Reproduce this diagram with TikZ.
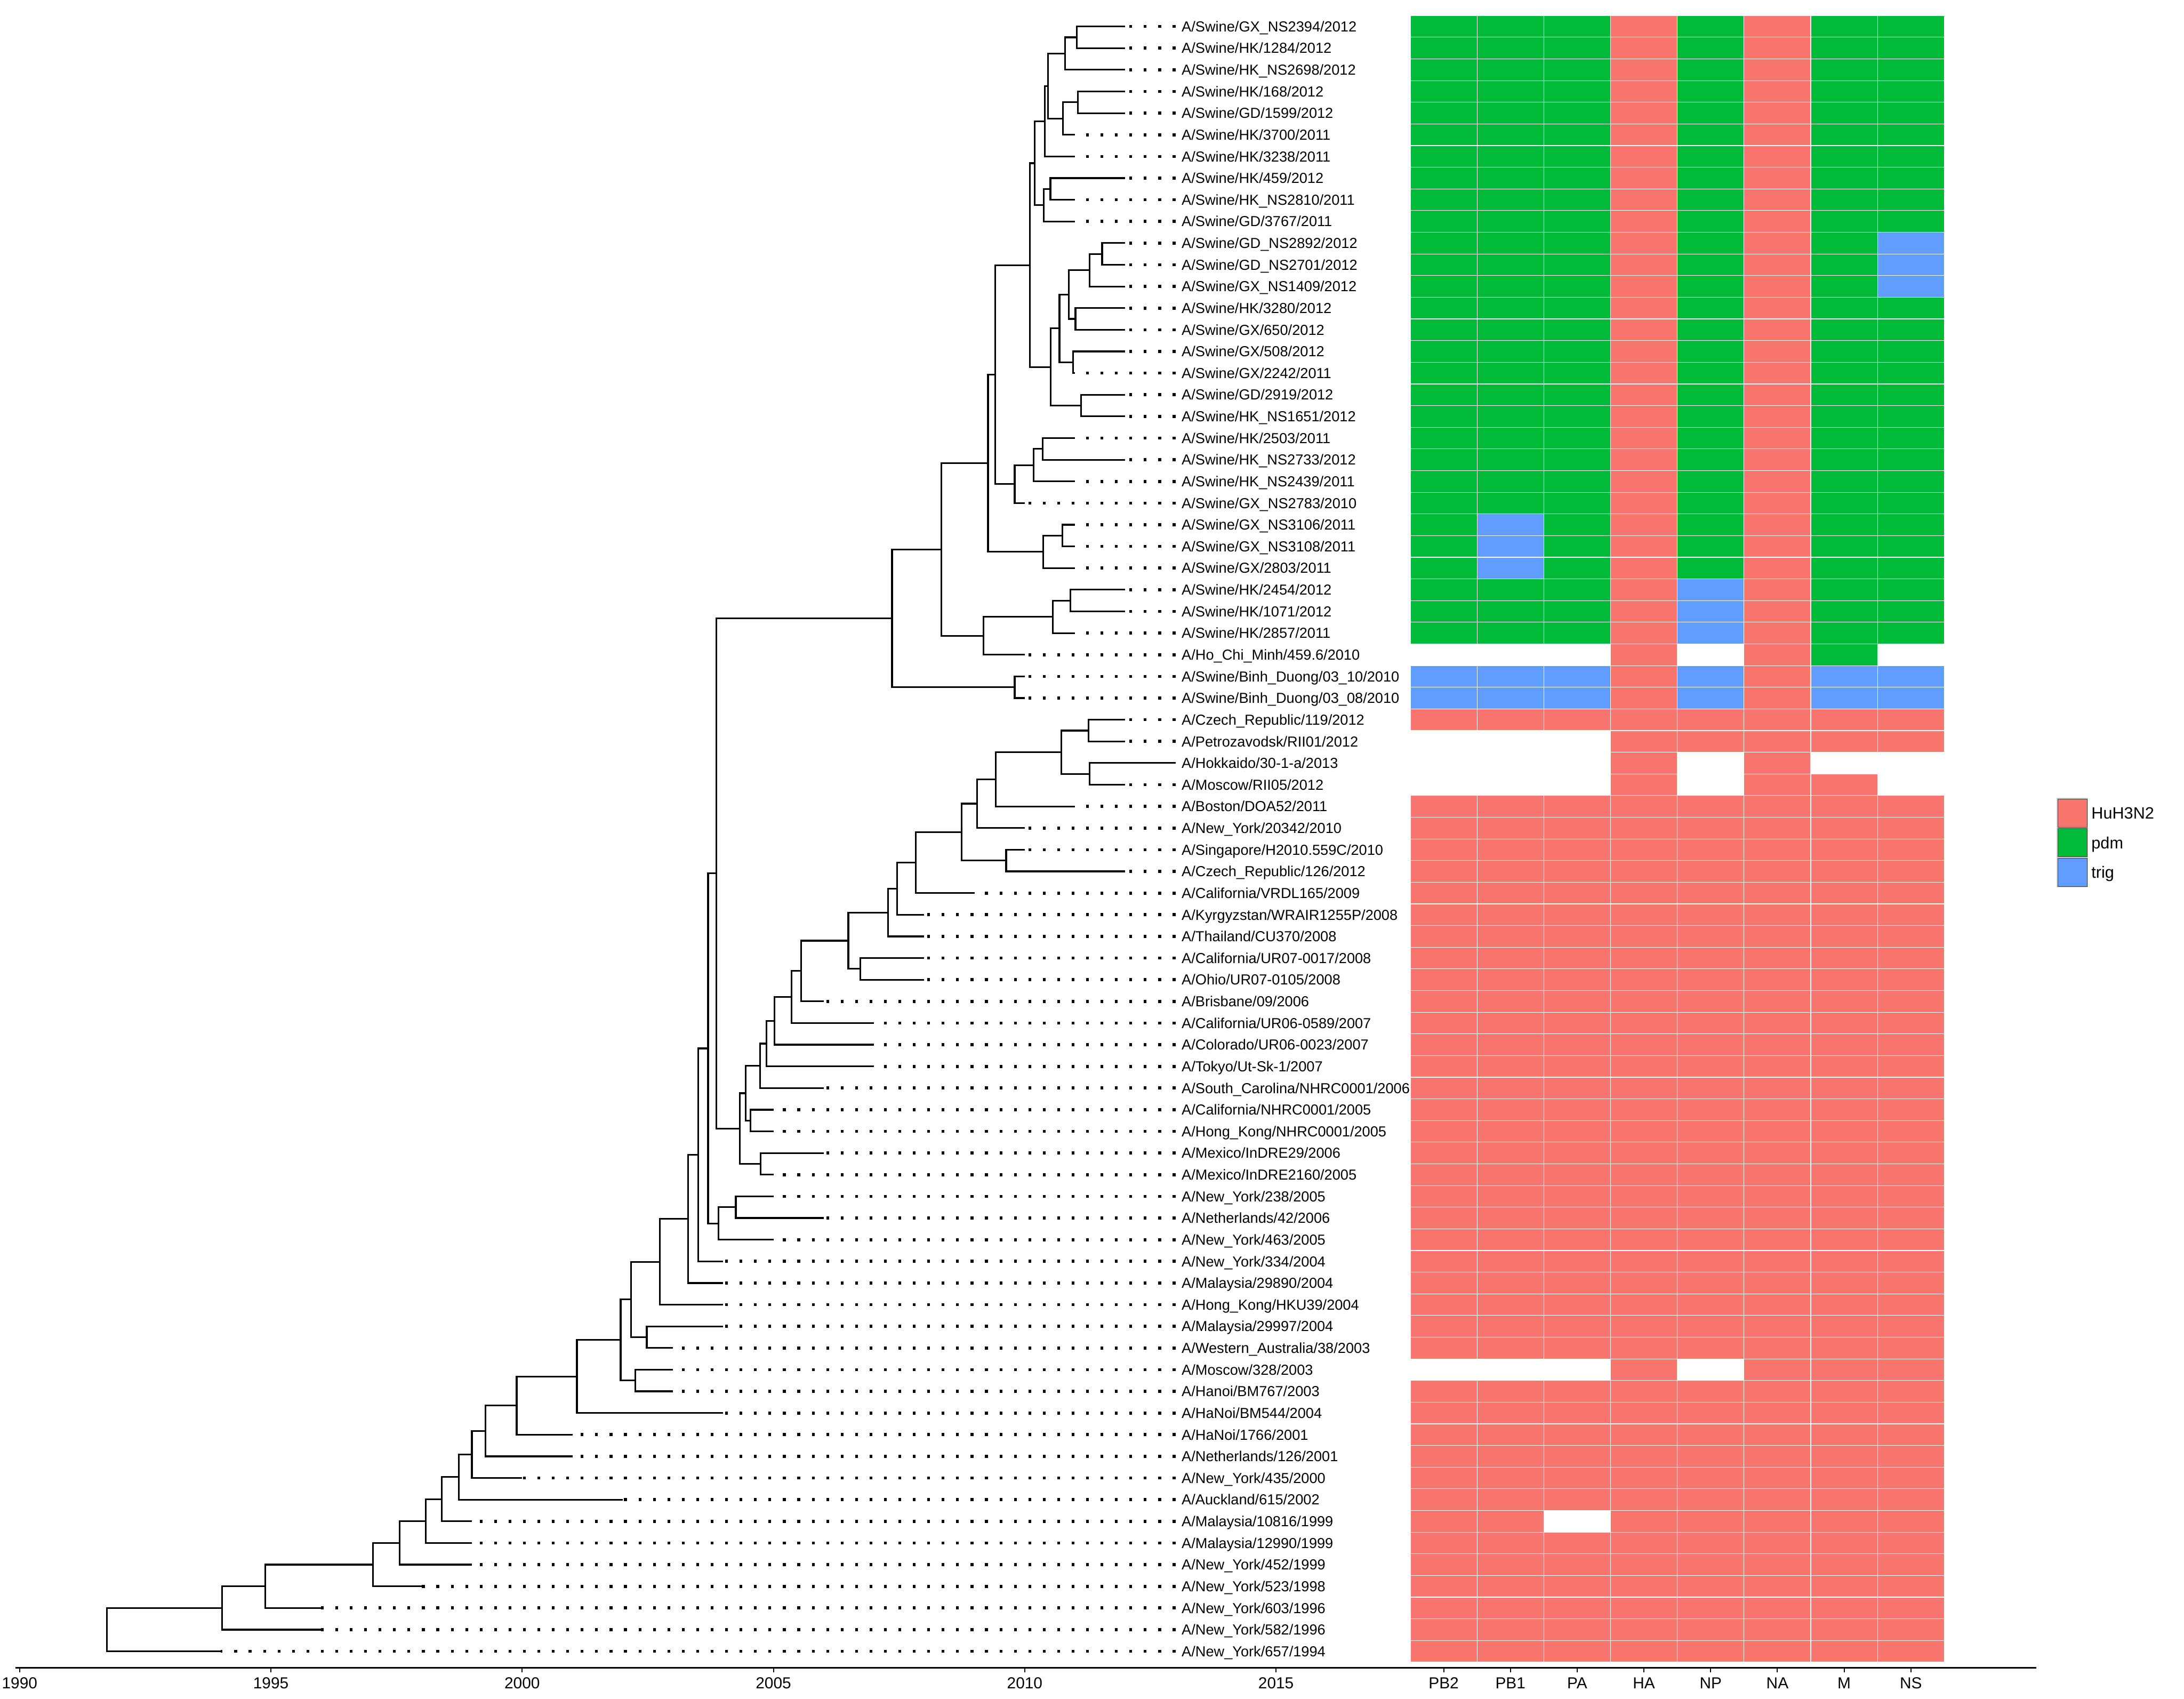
\documentclass[tikz,border=0pt]{standalone}
\usepackage{fontspec}
\setmainfont{Liberation Sans}
\usetikzlibrary{calc,positioning}
\definecolor{colHu}{HTML}{F8766D}
\definecolor{colPdm}{HTML}{00BA38}
\definecolor{colTrig}{HTML}{619CFF}
\colorlet{colNil}{white}
\tikzset{
  treeline/.style={line width=0.042cm},
  dotline/.style={line width=0.075cm, dash pattern=on 0.068cm off 0.289cm},
  tiplab/.style={anchor=west, inner sep=0pt, text height=7.3pt, text depth=0pt, font=\fontsize{10.2}{12}\selectfont},
  ticklab/.style={inner sep=0pt, text height=8pt, text depth=0pt, font=\fontsize{11.2}{13}\selectfont},
  keylab/.style={inner sep=0pt, text height=8.2pt, text depth=0pt, font=\fontsize{11.5}{13}\selectfont},
  keybox/.style={draw=black!75, line width=0.01cm, minimum width=0.72cm, minimum height=0.70cm, inner sep=0pt, preaction={draw=gray!35, line width=0.05cm}},
  axisline/.style={line width=0.04cm},
  tickline/.style={line width=0.028cm},
  cell/.style={draw=white, line width=0.015cm}
}
\newcommand\taxon[3]{%
  \coordinate (t#1) at (#2-1990,#1);
  \coordinate (e#1) at (23,#1);
  \draw[dotline] (e#1) -- (t#1);
  \node[tiplab] (lab#1) at (23.117,#1) {#3};
}
\newcommand\clade[4]{%
  \path ($(#3)!0.5!(#4)$) coordinate (mid#1);
  \coordinate (#1) at (#2,0 |- mid#1);
  \draw[treeline] (#1) |- (#3);
  \draw[treeline] (#1) |- (#4);
}
\newcommand\genorow[2]{%
  \foreach \c [count=\k from 0] in {#2}
    \path[fill=\c, cell] ({27.672+1.328*\k},#1-0.5) rectangle ++(1.328,1);
}
\begin{document}
\begin{tikzpicture}[x=1.2426cm, y=-0.5356cm]
  \useasboundingbox (-0.3903,-0.2211) rectangle (43.067,78.196);

  \foreach \r in {1,...,10} {\genorow{\r}{colPdm,colPdm,colPdm,colHu,colPdm,colHu,colPdm,colPdm}}
  \foreach \r in {11,12,13} {\genorow{\r}{colPdm,colPdm,colPdm,colHu,colPdm,colHu,colPdm,colTrig}}
  \foreach \r in {14,...,23} {\genorow{\r}{colPdm,colPdm,colPdm,colHu,colPdm,colHu,colPdm,colPdm}}
  \foreach \r in {24,25,26} {\genorow{\r}{colPdm,colTrig,colPdm,colHu,colPdm,colHu,colPdm,colPdm}}
  \foreach \r in {27,28,29} {\genorow{\r}{colPdm,colPdm,colPdm,colHu,colTrig,colHu,colPdm,colPdm}}
  \genorow{30}{colNil,colNil,colNil,colHu,colNil,colHu,colPdm,colNil}
  \foreach \r in {31,32} {\genorow{\r}{colTrig,colTrig,colTrig,colHu,colTrig,colHu,colTrig,colTrig}}
  \genorow{33}{colHu,colHu,colHu,colHu,colHu,colHu,colHu,colHu}
  \genorow{34}{colNil,colNil,colNil,colHu,colHu,colHu,colHu,colHu}
  \genorow{35}{colNil,colNil,colNil,colHu,colNil,colHu,colNil,colNil}
  \genorow{36}{colNil,colNil,colNil,colHu,colNil,colHu,colHu,colNil}
  \foreach \r in {37,...,62} {\genorow{\r}{colHu,colHu,colHu,colHu,colHu,colHu,colHu,colHu}}
  \genorow{63}{colNil,colNil,colNil,colHu,colNil,colHu,colHu,colHu}
  \foreach \r in {64,...,69} {\genorow{\r}{colHu,colHu,colHu,colHu,colHu,colHu,colHu,colHu}}
  \genorow{70}{colHu,colHu,colNil,colHu,colHu,colHu,colHu,colHu}
  \foreach \r in {71,...,76} {\genorow{\r}{colHu,colHu,colHu,colHu,colHu,colHu,colHu,colHu}}

  \taxon{1}{2012}{A/Swine/GX\_NS2394/2012}
  \taxon{2}{2012}{A/Swine/HK/1284/2012}
  \taxon{3}{2012}{A/Swine/HK\_NS2698/2012}
  \taxon{4}{2012}{A/Swine/HK/168/2012}
  \taxon{5}{2012}{A/Swine/GD/1599/2012}
  \taxon{6}{2011}{A/Swine/HK/3700/2011}
  \taxon{7}{2011}{A/Swine/HK/3238/2011}
  \taxon{8}{2012}{A/Swine/HK/459/2012}
  \taxon{9}{2011}{A/Swine/HK\_NS2810/2011}
  \taxon{10}{2011}{A/Swine/GD/3767/2011}
  \taxon{11}{2012}{A/Swine/GD\_NS2892/2012}
  \taxon{12}{2012}{A/Swine/GD\_NS2701/2012}
  \taxon{13}{2012}{A/Swine/GX\_NS1409/2012}
  \taxon{14}{2012}{A/Swine/HK/3280/2012}
  \taxon{15}{2012}{A/Swine/GX/650/2012}
  \taxon{16}{2012}{A/Swine/GX/508/2012}
  \taxon{17}{2011}{A/Swine/GX/2242/2011}
  \taxon{18}{2012}{A/Swine/GD/2919/2012}
  \taxon{19}{2012}{A/Swine/HK\_NS1651/2012}
  \taxon{20}{2011}{A/Swine/HK/2503/2011}
  \taxon{21}{2012}{A/Swine/HK\_NS2733/2012}
  \taxon{22}{2011}{A/Swine/HK\_NS2439/2011}
  \taxon{23}{2010}{A/Swine/GX\_NS2783/2010}
  \taxon{24}{2011}{A/Swine/GX\_NS3106/2011}
  \taxon{25}{2011}{A/Swine/GX\_NS3108/2011}
  \taxon{26}{2011}{A/Swine/GX/2803/2011}
  \taxon{27}{2012}{A/Swine/HK/2454/2012}
  \taxon{28}{2012}{A/Swine/HK/1071/2012}
  \taxon{29}{2011}{A/Swine/HK/2857/2011}
  \taxon{30}{2010}{A/Ho\_Chi\_Minh/459.6/2010}
  \taxon{31}{2010}{A/Swine/Binh\_Duong/03\_10/2010}
  \taxon{32}{2010}{A/Swine/Binh\_Duong/03\_08/2010}
  \taxon{33}{2012}{A/Czech\_Republic/119/2012}
  \taxon{34}{2012}{A/Petrozavodsk/RII01/2012}
  \taxon{35}{2013}{A/Hokkaido/30-1-a/2013}
  \taxon{36}{2012}{A/Moscow/RII05/2012}
  \taxon{37}{2011}{A/Boston/DOA52/2011}
  \taxon{38}{2010}{A/New\_York/20342/2010}
  \taxon{39}{2010}{A/Singapore/H2010.559C/2010}
  \taxon{40}{2012}{A/Czech\_Republic/126/2012}
  \taxon{41}{2009}{A/California/VRDL165/2009}
  \taxon{42}{2008}{A/Kyrgyzstan/WRAIR1255P/2008}
  \taxon{43}{2008}{A/Thailand/CU370/2008}
  \taxon{44}{2008}{A/California/UR07-0017/2008}
  \taxon{45}{2008}{A/Ohio/UR07-0105/2008}
  \taxon{46}{2006}{A/Brisbane/09/2006}
  \taxon{47}{2007}{A/California/UR06-0589/2007}
  \taxon{48}{2007}{A/Colorado/UR06-0023/2007}
  \taxon{49}{2007}{A/Tokyo/Ut-Sk-1/2007}
  \taxon{50}{2006}{A/South\_Carolina/NHRC0001/2006}
  \taxon{51}{2005}{A/California/NHRC0001/2005}
  \taxon{52}{2005}{A/Hong\_Kong/NHRC0001/2005}
  \taxon{53}{2006}{A/Mexico/InDRE29/2006}
  \taxon{54}{2005}{A/Mexico/InDRE2160/2005}
  \taxon{55}{2005}{A/New\_York/238/2005}
  \taxon{56}{2006}{A/Netherlands/42/2006}
  \taxon{57}{2005}{A/New\_York/463/2005}
  \taxon{58}{2004}{A/New\_York/334/2004}
  \taxon{59}{2004}{A/Malaysia/29890/2004}
  \taxon{60}{2004}{A/Hong\_Kong/HKU39/2004}
  \taxon{61}{2004}{A/Malaysia/29997/2004}
  \taxon{62}{2003}{A/Western\_Australia/38/2003}
  \taxon{63}{2003}{A/Moscow/328/2003}
  \taxon{64}{2003}{A/Hanoi/BM767/2003}
  \taxon{65}{2004}{A/HaNoi/BM544/2004}
  \taxon{66}{2001}{A/HaNoi/1766/2001}
  \taxon{67}{2001}{A/Netherlands/126/2001}
  \taxon{68}{2000}{A/New\_York/435/2000}
  \taxon{69}{2002}{A/Auckland/615/2002}
  \taxon{70}{1999}{A/Malaysia/10816/1999}
  \taxon{71}{1999}{A/Malaysia/12990/1999}
  \taxon{72}{1999}{A/New\_York/452/1999}
  \taxon{73}{1998}{A/New\_York/523/1998}
  \taxon{74}{1996}{A/New\_York/603/1996}
  \taxon{75}{1996}{A/New\_York/582/1996}
  \taxon{76}{1994}{A/New\_York/657/1994}

  \clade{sa}{21.04}{t1}{t2}
  \clade{sb}{20.80}{sa}{t3}
  \clade{sc}{21.06}{t4}{t5}
  \clade{sd}{20.76}{sc}{t6}
  \clade{se}{20.46}{sb}{sd}
  \clade{sf}{20.40}{se}{t7}
  \clade{sg}{20.51}{t8}{t9}
  \clade{sh}{20.38}{sg}{t10}
  \clade{si}{20.20}{sf}{sh}
  \clade{sk}{21.54}{t11}{t12}
  \clade{sl}{21.29}{sk}{t13}
  \clade{sm}{21.01}{t14}{t15}
  \clade{sn}{20.88}{sl}{sm}
  \clade{sp}{20.96}{t16}{t17}
  \clade{so}{20.69}{sn}{sp}
  \clade{sr}{21.12}{t18}{t19}
  \clade{sq}{20.52}{so}{sr}
  \clade{sj}{20.10}{si}{sq}
  \clade{sv}{20.36}{t20}{t21}
  \clade{su}{20.18}{sv}{t22}
  \clade{st}{19.80}{su}{t23}
  \clade{ss}{19.41}{sj}{st}
  \clade{sy}{20.75}{t24}{t25}
  \clade{sx}{20.37}{sy}{t26}
  \clade{sw}{19.27}{ss}{sx}
  \clade{sac}{20.91}{t27}{t28}
  \clade{sab}{20.56}{sac}{t29}
  \clade{saa}{19.18}{sab}{t30}
  \clade{sz}{18.34}{sw}{saa}
  \clade{bd}{19.80}{t31}{t32}
  \clade{stop}{17.36}{sz}{bd}

  \clade{ha}{21.27}{t33}{t34}
  \clade{hb}{21.29}{t35}{t36}
  \clade{hc}{20.73}{ha}{hb}
  \clade{hd}{19.42}{hc}{t37}
  \clade{he}{19.05}{hd}{t38}
  \clade{hf}{19.63}{t39}{t40}
  \clade{hg}{18.74}{he}{hf}
  \clade{hh}{17.83}{hg}{t41}
  \clade{hi}{17.46}{hh}{t42}
  \clade{hj}{17.28}{hi}{t43}
  \clade{hk}{16.73}{t44}{t45}
  \clade{hl}{16.49}{hj}{hk}
  \clade{hm}{15.55}{hl}{t46}
  \clade{hn}{15.36}{hm}{t47}
  \clade{ho}{15.02}{hn}{t48}
  \clade{hp}{14.86}{ho}{t49}
  \clade{hq}{14.73}{hp}{t50}
  \clade{hr}{14.54}{t51}{t52}
  \clade{hs}{14.45}{hq}{hr}
  \clade{ht}{14.74}{t53}{t54}
  \clade{hu}{14.33}{hs}{ht}
  \clade{hz}{13.86}{stop}{hu}
  \clade{hv}{14.25}{t55}{t56}
  \clade{hw}{13.91}{hv}{t57}
  \clade{bk1}{13.70}{hz}{hw}
  \clade{bk2}{13.50}{bk1}{t58}
  \clade{bk3}{13.30}{bk2}{t59}
  \clade{bk4}{12.74}{bk3}{t60}
  \clade{hx}{12.48}{t61}{t62}
  \clade{bk5}{12.17}{bk4}{hx}
  \clade{hy}{12.25}{t63}{t64}
  \clade{bk6}{11.96}{bk5}{hy}
  \clade{bk7}{11.09}{bk6}{t65}
  \clade{bk8}{9.89}{bk7}{t66}
  \clade{bk9}{9.27}{bk8}{t67}
  \clade{bk10}{9.00}{bk9}{t68}
  \clade{bk11}{8.74}{bk10}{t69}
  \clade{bk12}{8.40}{bk11}{t70}
  \clade{bk13}{8.08}{bk12}{t71}
  \clade{bk14}{7.56}{bk13}{t72}
  \clade{bk15}{7.03}{bk14}{t73}
  \clade{bk16}{4.89}{bk15}{t74}
  \clade{bk17}{4.03}{bk16}{t75}
  \clade{root}{1.74}{bk17}{t76}

  \draw[axisline] (-0.08,76.75) coordinate (ax0) -- (40.13,76.75) coordinate (ax1);
  \foreach \yr in {1990,1995,...,2015} {
    \draw[tickline] (\yr-1990,76.75) -- ++(0,0.21);
    \node[ticklab] (yr\yr) at (\yr-1990,77.46) {\yr};
  }
  \foreach \g [count=\k from 0] in {PB2,PB1,PA,HA,NP,NA,M,NS} {
    \draw[tickline] ({28.336+1.328*\k},76.75) -- ++(0,0.21);
    \node[ticklab] (gene\g) at ({28.336+1.328*\k},77.46) {\g};
  }

  \node[keybox, fill=colHu] (keyHu) at (40.845,37.31) {};
  \node[keybox, fill=colPdm, below=0.02cm of keyHu] (keyPdm) {};
  \node[keybox, fill=colTrig, below=0.02cm of keyPdm] (keyTrig) {};
  \node[keylab, right=0.1cm of keyHu] (labHu) {HuH3N2};
  \node[keylab, right=0.1cm of keyPdm] (labPdm) {pdm};
  \node[keylab, right=0.1cm of keyTrig] (labTrig) {trig};
\end{tikzpicture}
\end{document}
